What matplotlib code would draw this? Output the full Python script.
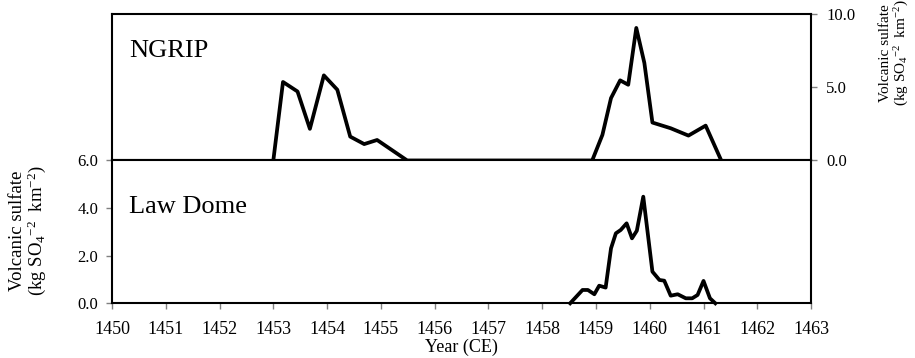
import matplotlib.pyplot as plt
from matplotlib.ticker import FormatStrFormatter

plt.rcParams['font.family'] = 'Liberation Serif'
plt.rcParams['mathtext.fontset'] = 'custom'
plt.rcParams['mathtext.rm'] = 'Liberation Serif'
plt.rcParams['mathtext.it'] = 'Liberation Serif:italic'

# NGRIP (top panel, right axis)
ngrip_year = [1453.0, 1453.18, 1453.45, 1453.68, 1453.94, 1454.19, 1454.43, 1454.69, 1454.93, 1455.49,
              1458.93, 1459.12, 1459.28, 1459.45, 1459.60, 1459.75, 1459.90, 1460.05, 1460.39,
              1460.72, 1461.04, 1461.33]
ngrip_sulfate = [0.0, 5.36, 4.71, 2.16, 5.81, 4.83, 1.63, 1.12, 1.40, 0.0,
                 0.0, 1.75, 4.26, 5.47, 5.17, 9.05, 6.66, 2.59, 2.20,
                 1.70, 2.38, 0.0]

# Law Dome (bottom panel, left axis)
law_year = [1458.52, 1458.75, 1458.85, 1458.97, 1459.06, 1459.18, 1459.28, 1459.37, 1459.46,
            1459.57, 1459.67, 1459.76, 1459.88, 1460.05, 1460.18, 1460.27, 1460.39, 1460.52,
            1460.67, 1460.79, 1460.89, 1461.00, 1461.12, 1461.22]
law_sulfate = [0.0, 0.56, 0.56, 0.38, 0.74, 0.66, 2.31, 2.94, 3.08,
               3.36, 2.73, 3.05, 4.48, 1.33, 0.98, 0.95, 0.32, 0.38,
               0.21, 0.21, 0.35, 0.94, 0.21, 0.0]

years = list(range(1450, 1464))
top_ticks = [0, 5, 10]
bot_ticks = [0, 2, 4, 6]

fig = plt.figure(figsize=(9.15, 3.58), dpi=100)
ax_top = fig.add_axes([0.1224, 0.5517, 0.764, 0.4092])
ax_bot = fig.add_axes([0.1224, 0.1528, 0.764, 0.3989])

tick_col = '#808080'

# --- top: NGRIP ---
ax_top.plot(ngrip_year, ngrip_sulfate, color='black', lw=2.7, clip_on=False)
ax_top.set_xlim(1450, 1463)
ax_top.set_ylim(0, 10)
ax_top.set_xticks([])
ax_top.yaxis.tick_right()
ax_top.set_yticks(top_ticks)
ax_top.yaxis.set_major_formatter(FormatStrFormatter('%.1f'))
ax_top.tick_params(axis='y', direction='out', length=4, width=1, color=tick_col, labelsize=12, pad=7)
for s in ax_top.spines.values():
    s.set_linewidth(1.5)
ax_top.text(0.024, 0.707, 'NGRIP', transform=ax_top.transAxes, fontsize=19, va='baseline', ha='left')

# --- bottom: Law Dome ---
ax_bot.plot(law_year, law_sulfate, color='black', lw=2.7, clip_on=False)
ax_bot.set_xlim(1450, 1463)
ax_bot.set_ylim(0, 6)
ax_bot.set_xticks(years)
ax_bot.set_yticks(bot_ticks)
ax_bot.yaxis.set_major_formatter(FormatStrFormatter('%.1f'))
ax_bot.tick_params(direction='out', length=4, width=1, color=tick_col, labelsize=12, pad=6)
ax_bot.tick_params(axis='x', labelsize=13, pad=9)
for s in ax_bot.spines.values():
    s.set_linewidth(1.5)
ax_bot.set_xlabel('Year (CE)', fontsize=13, labelpad=0)
ax_bot.text(0.024, 0.63, 'Law Dome', transform=ax_bot.transAxes, fontsize=19, va='baseline', ha='left')

ylab = 'Volcanic sulfate\n(kg SO$_4$$^{-2}$  km$^{-2}$)'
fig.text(0.031, 0.355, ylab, rotation=90, ha='center', va='center', fontsize=13.5,
         multialignment='center', linespacing=0.95)
fig.text(0.978, 0.852, ylab, rotation=90, ha='center', va='center', fontsize=11,
         multialignment='center', linespacing=1.1)

fig.savefig('out.png', dpi=100)
